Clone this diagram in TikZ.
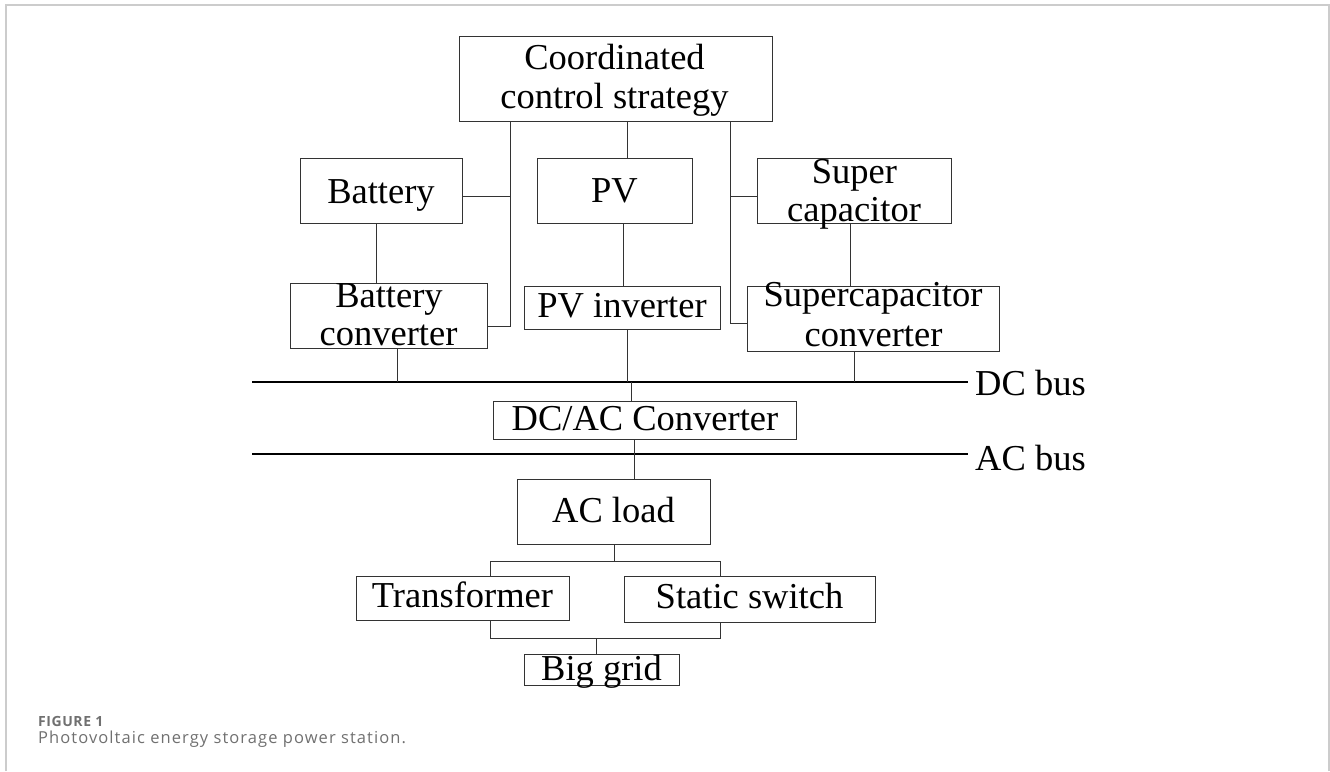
\documentclass[tikz,border=0pt]{standalone}
\usepackage{fontspec}
\setmainfont{Liberation Serif}
\newfontfamily\capfont[LetterSpace=6.5]{Open Sans}
\newfontfamily\capfontb[LetterSpace=4]{Open Sans}
\definecolor{bordergray}{HTML}{CCCCCC}
\definecolor{capgray}{HTML}{707070}
\definecolor{linegray}{HTML}{333333}
\newcommand\boxfs{\fontsize{36.5}{39}\selectfont}
\tikzset{
  box/.style={draw=linegray, line width=1pt, inner sep=0pt, anchor=center},
  lab/.style={inner sep=0pt, anchor=base, font=\boxfs},
  conn/.style={draw=linegray, line width=1pt},
  bus/.style={draw=black, line width=2.2pt},
  buslab/.style={inner sep=0pt, anchor=base west, font=\boxfs},
  frame/.style={draw=bordergray, line width=1.5pt}
}
\begin{document}
\begin{tikzpicture}[x=1pt,y=-1pt]
\useasboundingbox (0,0) rectangle (1330,771);
\draw[frame] (6,771) -- (6,5) -- (1329,5) -- (1329,771);

% boxes
\node[box, minimum width=313pt, minimum height=85pt] (coord) at (615.5,78.5) {};
\node[box, minimum width=162pt, minimum height=65pt] (bat) at (381,190.5) {};
\node[box, minimum width=155pt, minimum height=65pt] (pv) at (614.5,190.5) {};
\node[box, minimum width=194pt, minimum height=65pt] (sc) at (854,190.5) {};
\node[box, minimum width=197pt, minimum height=65pt] (batconv) at (388.5,315.5) {};
\node[box, minimum width=196pt, minimum height=43pt] (pvinv) at (622,307.5) {};
\node[box, minimum width=252pt, minimum height=65pt] (scconv) at (873,318.5) {};
\node[box, minimum width=303pt, minimum height=38pt] (dcac) at (644.5,420) {};
\node[box, minimum width=193pt, minimum height=65pt] (acload) at (613.5,511.5) {};
\node[box, minimum width=213pt, minimum height=44pt] (trans) at (462.5,598) {};
\node[box, minimum width=251pt, minimum height=46pt] (ssw) at (749.5,599) {};
\node[box, minimum width=155pt, minimum height=31pt] (grid) at (601.5,669.5) {};

% box texts
\node[lab] (coordA) at (614.5,69) {Coordinated};
\node[lab] (coordB) at (614.5,108) {control strategy};
\node[lab] (batT) at (381,203) {Battery};
\node[lab] (pvT) at (614.5,202) {PV};
\node[lab] (scA) at (854.5,183.3) {Super};
\node[lab] (scB) at (854,221.7) {capacitor};
\node[lab] (batconvA) at (389,307) {Battery};
\node[lab] (batconvB) at (388.5,345) {converter};
\node[lab] (pvinvT) at (622,317) {PV inverter};
\node[lab] (scconvA) at (873,306.7) {Supercapacitor};
\node[lab] (scconvB) at (873.5,346) {converter};
\node[lab] (dcacT) at (645,430) {DC/AC Converter};
\node[lab] (acloadT) at (613.5,522) {AC load};
\node[lab] (transT) at (462.5,607) {Transformer};
\node[lab] (sswT) at (749.5,608) {Static switch};
\node[lab] (gridT) at (601.5,680) {Big grid};

% buses
\coordinate (dcL) at (252,382);
\coordinate (dcR) at (968,382);
\coordinate (acL) at (252,454);
\coordinate (acR) at (968,454);
\draw[bus] (dcL) -- (dcR);
\draw[bus] (acL) -- (acR);
\node[buslab] (dclab) at (975,395) {DC bus};
\node[buslab] (aclab) at (975,470) {AC bus};

% junction coordinates
\coordinate (jl1) at (510,196);
\coordinate (jl2) at (510,326);
\coordinate (jr1) at (730,196);
\coordinate (jr2) at (730,323);
\coordinate (ja) at (614,561);
\coordinate (jb) at (596,638);

% control lines
\draw[conn] (coord.south -| jl1) -- (jl2) -- (batconv.east |- jl2);
\draw[conn] (bat.east |- jl1) -- (jl1);
\draw[conn] (coord.south -| 627,0) -- (pv.north -| 627,0);
\draw[conn] (coord.south -| jr1) -- (jr2) -- (scconv.west |- jr2);
\draw[conn] (jr1) -- (sc.west |- jr1);

% source to converter
\draw[conn] (bat.south -| 376,0) -- (batconv.north -| 376,0);
\draw[conn] (pv.south -| 623,0) -- (pvinv.north -| 623,0);
\draw[conn] (sc.south -| 850,0) -- (scconv.north -| 850,0);

% converters to DC bus
\draw[conn] (batconv.south -| 397,0) -- (dcL -| 397,0);
\draw[conn] (pvinv.south -| 627,0) -- (dcL -| 627,0);
\draw[conn] (scconv.south -| 854,0) -- (dcL -| 854,0);

% DC bus to DC/AC, DC/AC to AC load
\draw[conn] (dcL -| 631,0) -- (dcac.north -| 631,0);
\draw[conn] (dcac.south -| 634,0) -- (acload.north -| 634,0);

% AC load to transformer / static switch
\draw[conn] (acload.south -| ja) -- (ja);
\draw[conn] (trans.north -| 490,0) -- (490,561) -- (720,561) -- (ssw.north -| 720,0);
\draw[conn] (trans.south -| 490,0) -- (490,638) -- (720,638) -- (ssw.south -| 720,0);
\draw[conn] (jb) -- (grid.north -| jb);

% caption
\node[inner sep=0pt, anchor=base west, text=capgray, font={\capfontb\bfseries\fontsize{14}{15}\selectfont}] (figlab) at (38,726) {FIGURE 1};
\node[inner sep=0pt, anchor=base west, text=capgray, font={\capfont\fontsize{16.5}{18}\selectfont}] (figcap) at (38,743) {Photovoltaic energy storage power station.};
\end{tikzpicture}
\end{document}
